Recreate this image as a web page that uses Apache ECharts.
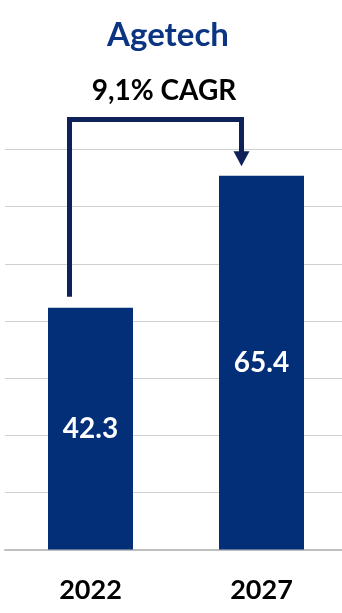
<!DOCTYPE html>
<html><head><meta charset="utf-8">
<script src="https://cdn.jsdelivr.net/npm/echarts@6/dist/echarts.min.js"></script>
<style>html,body{margin:0;padding:0;background:#fff;overflow:hidden}#c{width:350px;height:613px}</style>
</head><body><div id="c"></div>
<script>
const categories = ['2022', '2027'];
const values = [42.3, 65.4];
const titleText = 'Agetech';
const cagrText = '9,1% CAGR';
const yMax = 70;
const yInterval = 10;

const FONT = 'Lato, "Open Sans", sans-serif';
const chart = echarts.init(document.getElementById('c'), null, {renderer: 'canvas'});
chart.setOption({
  animation: false,
  grid: {left: 5, right: 3, top: 149.5, bottom: 63.5, containLabel: false},
  xAxis: {
    type: 'category', data: categories,
    axisLine: {show: true, lineStyle: {color: '#bfbfbf', width: 2}},
    axisTick: {show: false},
    axisLabel: {fontFamily: FONT, fontWeight: 'bold', fontSize: 27, color: '#000', margin: 27}
  },
  yAxis: {
    type: 'value', min: 0, max: yMax, interval: yInterval,
    axisLine: {show: false}, axisTick: {show: false}, axisLabel: {show: false},
    splitLine: {lineStyle: {color: '#d0d0d0', width: 1}}
  },
  series: [{
    type: 'bar', data: values, barWidth: 85,
    itemStyle: {color: '#032e78'},
    label: {show: true, position: 'inside', fontFamily: FONT, fontWeight: 'bold', fontSize: 28, color: '#fff'}
  }]
});

function drawBracket() {
  const p0 = chart.convertToPixel({xAxisIndex: 0, yAxisIndex: 0}, [0, values[0]]);
  const p1 = chart.convertToPixel({xAxisIndex: 0, yAxisIndex: 0}, [1, values[1]]);
  const x0 = p0[0] - 21, x1 = p1[0] - 20;
  const yTop = 119.5;
  const yStart = p0[1] - 11;
  const tip = p1[1] - 9.5;
  const headH = 15, headW = 16;
  const col = '#0e2259';
  chart.setOption({
    graphic: [
      {type: 'text', x: 168, y: 19, style: {text: titleText, textAlign: 'center', textVerticalAlign: 'top',
        font: 'bold 33px ' + FONT, fill: '#0b3482'}},
      {type: 'text', x: 164, y: 77, style: {text: cagrText, textAlign: 'center', textVerticalAlign: 'top',
        font: 'bold 28px ' + FONT, fill: '#000'}},
      {type: 'polyline', shape: {points: [[x0, yStart], [x0, yTop], [x1, yTop], [x1, tip - headH + 1]]},
       style: {stroke: col, lineWidth: 5, fill: null, lineJoin: 'miter'}},
      {type: 'polygon', shape: {points: [[x1 - headW / 2, tip - headH], [x1 + headW / 2, tip - headH], [x1, tip]]},
       style: {fill: col}}
    ]
  });
}
drawBracket();
</script></body></html>
